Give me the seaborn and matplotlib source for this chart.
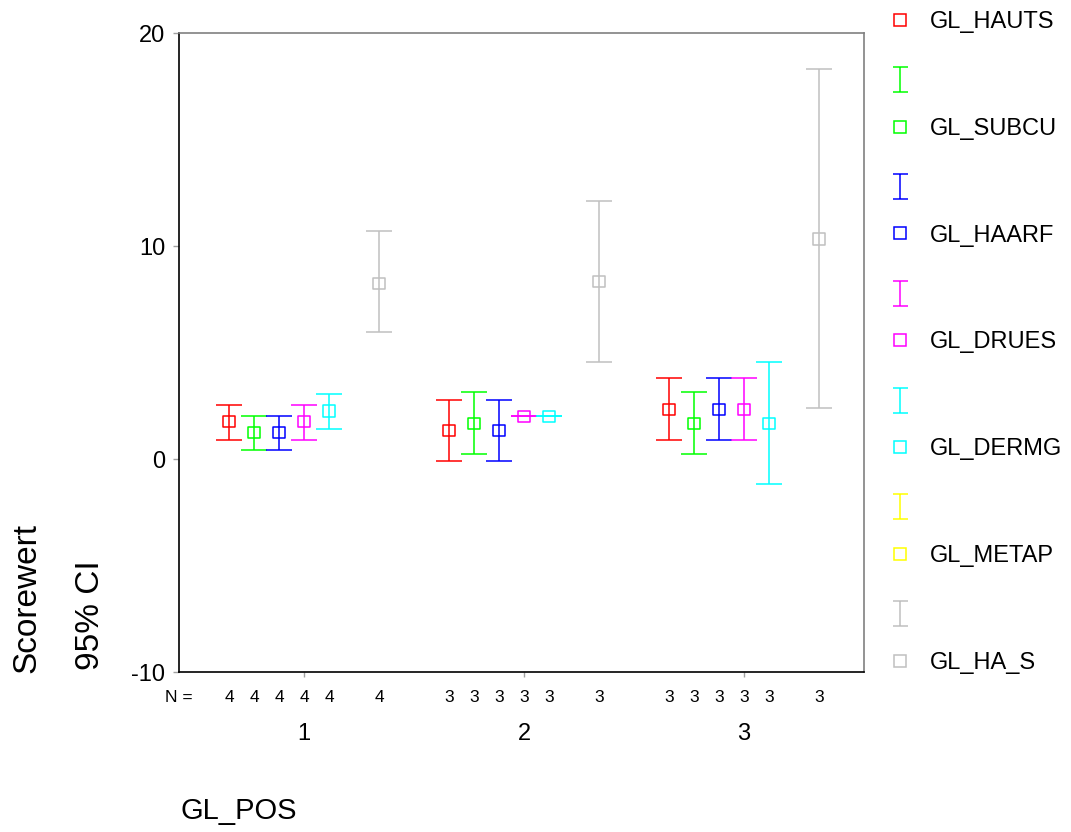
import numpy as np
import pandas as pd
import matplotlib
matplotlib.use("Agg")
import matplotlib.pyplot as plt
from matplotlib.lines import Line2D
from matplotlib.path import Path
import seaborn as sns

# ---------------- data ----------------
groups = [1, 2, 3]
series = ["GL_HAUTS", "GL_SUBCU", "GL_HAARF", "GL_DRUES", "GL_DERMG", "GL_METAP", "GL_HA_S"]
colors = ["#FF0000", "#00FF00", "#0000FF", "#FF00FF", "#00FFFF", "#FFFF00", "#C0C0C0"]

mean_hauts = [1.75, 1.33, 2.33]
mean_subcu = [1.25, 1.67, 1.67]
mean_haarf = [1.25, 1.33, 2.33]
mean_drues = [1.75, 2.00, 2.33]
mean_dermg = [2.25, 2.00, 1.67]
mean_metap = [np.nan, np.nan, np.nan]
mean_ha_s = [8.25, 8.33, 10.33]

low_hauts = [0.91, -0.09, 0.91]
low_subcu = [0.41, 0.25, 0.25]
low_haarf = [0.41, -0.09, 0.91]
low_drues = [0.91, 2.00, 0.91]
low_dermg = [1.41, 2.00, -1.19]
low_metap = [np.nan, np.nan, np.nan]
low_ha_s = [5.95, 4.57, 2.38]

up_hauts = [2.55, 2.78, 3.80]
up_subcu = [2.02, 3.13, 3.13]
up_haarf = [2.02, 2.78, 3.80]
up_drues = [2.55, 2.00, 3.80]
up_dermg = [3.05, 2.00, 4.57]
up_metap = [np.nan, np.nan, np.nan]
up_ha_s = [10.69, 12.11, 18.30]

n_hauts = [4, 3, 3]
n_subcu = [4, 3, 3]
n_haarf = [4, 3, 3]
n_drues = [4, 3, 3]
n_dermg = [4, 3, 3]
n_metap = [None, None, None]
n_ha_s = [4, 3, 3]

means = [mean_hauts, mean_subcu, mean_haarf, mean_drues, mean_dermg, mean_metap, mean_ha_s]
lows = [low_hauts, low_subcu, low_haarf, low_drues, low_dermg, low_metap, low_ha_s]
ups = [up_hauts, up_subcu, up_haarf, up_drues, up_dermg, up_metap, up_ha_s]
ns = [n_hauts, n_subcu, n_haarf, n_drues, n_dermg, n_metap, n_ha_s]

# ---------------- build table ----------------
dodge = 0.1136
rows = []
for i, s in enumerate(series):
    for j, g in enumerate(groups):
        rows.append(dict(series=s, group=g, x=g + (i - 3) * dodge,
                         mean=means[i][j], low=lows[i][j], up=ups[i][j], n=ns[i][j]))
df = pd.DataFrame(rows)
dfp = df.dropna(subset=["mean"])

# ---------------- style ----------------
sns.set_style("white")
plt.rcParams["font.family"] = ["Liberation Sans", "DejaVu Sans"]
plt.rcParams["axes.unicode_minus"] = False
plt.rcParams["text.color"] = "black"
plt.rcParams["xtick.labelcolor"] = "black"
plt.rcParams["ytick.labelcolor"] = "black"

fig = plt.figure(figsize=(10.71, 8.32), dpi=100)
ax = fig.add_axes([0.1671, 0.1923, 0.6396, 0.768])

pal = dict(zip(series, colors))

# error bars
for s in series:
    d = dfp[dfp["series"] == s]
    if d.empty:
        continue
    ax.errorbar(d["x"], d["mean"], yerr=[d["mean"] - d["low"], d["up"] - d["mean"]],
                fmt="none", ecolor=pal[s], elinewidth=1.1, capsize=9.4, capthick=1.1, zorder=2)

# hollow square means
sns.scatterplot(data=dfp, x="x", y="mean", hue="series", palette=pal, marker="s",
                s=65, linewidth=1.1, legend=False, ax=ax, zorder=3)
sc = ax.collections[-1]
sc.set_edgecolors(sc.get_facecolors())
sc.set_facecolor("none")

ax.set_xlim(0.432, 3.545)
ax.set_ylim(-10, 20)
ax.set_yticks([-10, 0, 10, 20])
ax.set_xticks(groups)
ax.set_xticklabels([str(g) for g in groups])
ax.set_xlabel("")
ax.set_ylabel("")
ax.tick_params(axis="y", left=True, length=4.3, width=1, color="#A0A0A0", pad=5.5,
               labelsize=17, labelcolor="black")
ax.tick_params(axis="x", bottom=True, length=3.5, width=1, color="#A0A0A0", pad=33,
               labelsize=17, labelcolor="black")

for side in ["left", "bottom"]:
    ax.spines[side].set_color("black")
    ax.spines[side].set_linewidth(1.2)
for side in ["top", "right"]:
    ax.spines[side].set_color("#808080")
    ax.spines[side].set_linewidth(1.2)

# N row
nfont = dict(family=["Liberation Sans Narrow", "Liberation Sans"], size=12.5, color="black")
trans = ax.get_xaxis_transform()
ax.annotate("N =", xy=(0.0, 0), xycoords="axes fraction", xytext=(0, -18.7),
            textcoords="offset points", ha="center", va="center", **nfont)
for _, r in df.dropna(subset=["n"]).iterrows():
    ax.annotate(str(int(r["n"])), xy=(r["x"], 0), xycoords=trans, xytext=(0, -18.7),
                textcoords="offset points", ha="center", va="center", **nfont)

# axis titles
fig.text(27 / 1071, 1 - 673 / 832, "Scorewert", rotation=90, ha="center", va="bottom",
         fontsize=24, color="black")
fig.text(90 / 1071, 1 - 670 / 832, "95% CI", rotation=90, ha="center", va="bottom",
         fontsize=24, color="black")
fig.text(180 / 1071, 1 - 811 / 832, "GL_POS", ha="left", va="center", fontsize=21, color="black")

# legend (I-bar glyph sits slightly below row centre, as in the original)
ibar = Path([(-0.6, -1.55), (0.6, -1.55), (0, -1.55), (0, 0.45), (-0.6, 0.45), (0.6, 0.45)],
            [Path.MOVETO, Path.LINETO, Path.MOVETO, Path.LINETO, Path.MOVETO, Path.LINETO])
handles, labels = [], []
for i, s in enumerate(series):
    if i > 0:
        handles.append(Line2D([], [], ls="none", marker=ibar, ms=27.9, mew=1.1,
                              mec=colors[i], mfc="none"))
        labels.append(" ")
    handles.append(Line2D([], [], ls="none", marker="s", ms=8.2, mew=1.1,
                          mec=colors[i], mfc="none"))
    labels.append(s)
leg = fig.legend(handles, labels, loc="upper left", bbox_to_anchor=(888 / 1071, 1 - 11 / 832),
                 frameon=False, fontsize=17, handlelength=1.0, handletextpad=0.78,
                 labelspacing=1.33, borderpad=0, borderaxespad=0, labelcolor="black")

fig.savefig("out.png", dpi=100)
